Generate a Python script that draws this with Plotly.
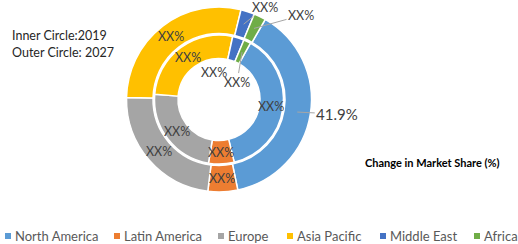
import math
import plotly.graph_objects as go

# ---------------- data ----------------
categories = ["North America", "Latin America", "Europe", "Asia Pacific", "Middle East", "Africa"]
colors = ["#5B9BD5", "#ED7D31", "#A5A5A5", "#FFC000", "#4472C4", "#70AD47"]
share_2019 = [38.1, 6.4, 23.7, 27.1, 2.9, 1.8]   # inner circle
share_2027 = [38.4, 5.2, 23.4, 28.5, 2.4, 2.1]   # outer circle
text_2019 = ["XX%", "XX%", "XX%", "XX%", "XX%", "XX%"]
text_2027 = ["41.9%", "XX%", "XX%", "XX%", "XX%", "XX%"]
start_2019 = 29.2   # degrees clockwise from 12 o'clock where first slice starts
start_2027 = 30.0

# ---------------- layout geometry ----------------
W, H = 518, 244
CX, CY = 219, 99.5
R_OUT, R_OUT_HOLE = 92.5, 66
R_IN, R_IN_HOLE = 64.5, 41
FONT = "Lato"
TXT = "#404040"


def dom(r):
    return dict(x=[(CX - r) / W, (CX + r) / W], y=[(H - CY - r) / H, (H - CY + r) / H])


def mids(vals, start):
    tot = sum(vals)
    a = start
    out = []
    for v in vals:
        span = v / tot * 360
        out.append(a + span / 2)
        a += span
    return out


def to_paper(angle, r):
    t = math.radians(angle)
    px = CX + r * math.sin(t)
    py = CY - r * math.cos(t)
    return px / W, 1 - py / H


fig = go.Figure()
fig.add_trace(go.Pie(labels=categories, values=share_2027, sort=False, direction="clockwise",
                     rotation=start_2027, hole=R_OUT_HOLE / R_OUT, domain=dom(R_OUT),
                     marker=dict(colors=colors, line=dict(color="white", width=1.5)),
                     textinfo="none", hoverinfo="skip", showlegend=False))
fig.add_trace(go.Pie(labels=categories, values=share_2019, sort=False, direction="clockwise",
                     rotation=start_2019, hole=R_IN_HOLE / R_IN, domain=dom(R_IN),
                     marker=dict(colors=colors, line=dict(color="white", width=1.5)),
                     textinfo="none", hoverinfo="skip", showlegend=False))

# label placement: (dx, dy, draw_leader) offsets in pixels for labels outside the ring
out_offsets = {"North America": (40, 2, True), "Middle East": (21, -17, True), "Africa": (47, -13, True)}
in_offsets = {"Middle East": (-21, 23, False), "Africa": (-5, 30, True)}

annotations = []
for ring, vals, texts, start, rmid, offs in [
        ("out", share_2027, text_2027, start_2027, (R_OUT + R_OUT_HOLE) / 2, out_offsets),
        ("in", share_2019, text_2019, start_2019, (R_IN + R_IN_HOLE) / 2, in_offsets)]:
    for cat, ang, t in zip(categories, mids(vals, start), texts):
        x, y = to_paper(ang, rmid)
        size = 15 if t != "XX%" else 12.5
        common = dict(x=x, y=y, xref="paper", yref="paper", text=t, xanchor="center", yanchor="middle",
                      font=dict(family=FONT, size=size, color=TXT))
        if cat in offs:
            dx, dy, leader = offs[cat]
            annotations.append(dict(common, showarrow=True, ax=dx, ay=dy, arrowhead=0, arrowwidth=1,
                                    arrowcolor="#A6A6A6" if leader else "rgba(0,0,0,0)"))
        else:
            annotations.append(dict(common, showarrow=False))

annotations += [
    dict(x=10 / W, y=1 - 36 / H, xref="paper", yref="paper", xanchor="left", yanchor="middle",
         text="Inner Circle:2019", showarrow=False, font=dict(family=FONT, size=12.5, color="#262626")),
    dict(x=10 / W, y=1 - 53 / H, xref="paper", yref="paper", xanchor="left", yanchor="middle",
         text="Outer Circle: 2027", showarrow=False, font=dict(family=FONT, size=12.5, color="#262626")),
    dict(x=432 / W, y=1 - 162 / H, xref="paper", yref="paper", xanchor="center", yanchor="middle",
         text="<b>Change in Market Share (%)</b>",
         showarrow=False, font=dict(family=FONT, size=11, color="#000000")),
]

# legend row
legend_x = [5, 114, 218, 287, 380, 474]
shapes = []
LY = 236
for cat, col, lx in zip(categories, colors, legend_x):
    shapes.append(dict(type="rect", xref="paper", yref="paper", x0=lx / W, x1=(lx + 6) / W,
                       y0=1 - (LY + 3) / H, y1=1 - (LY - 3) / H, fillcolor=col, line=dict(width=0)))
    annotations.append(dict(x=(lx + 8) / W, y=1 - LY / H, xref="paper", yref="paper",
                            xanchor="left", yanchor="middle",
                            text=cat, showarrow=False, font=dict(family=FONT, size=13, color="#595959")))

fig.update_layout(width=W, height=H, margin=dict(l=0, r=0, t=0, b=0),
                  paper_bgcolor="white", plot_bgcolor="white",
                  annotations=annotations, shapes=shapes, showlegend=False)
fig.write_html("out.html")
